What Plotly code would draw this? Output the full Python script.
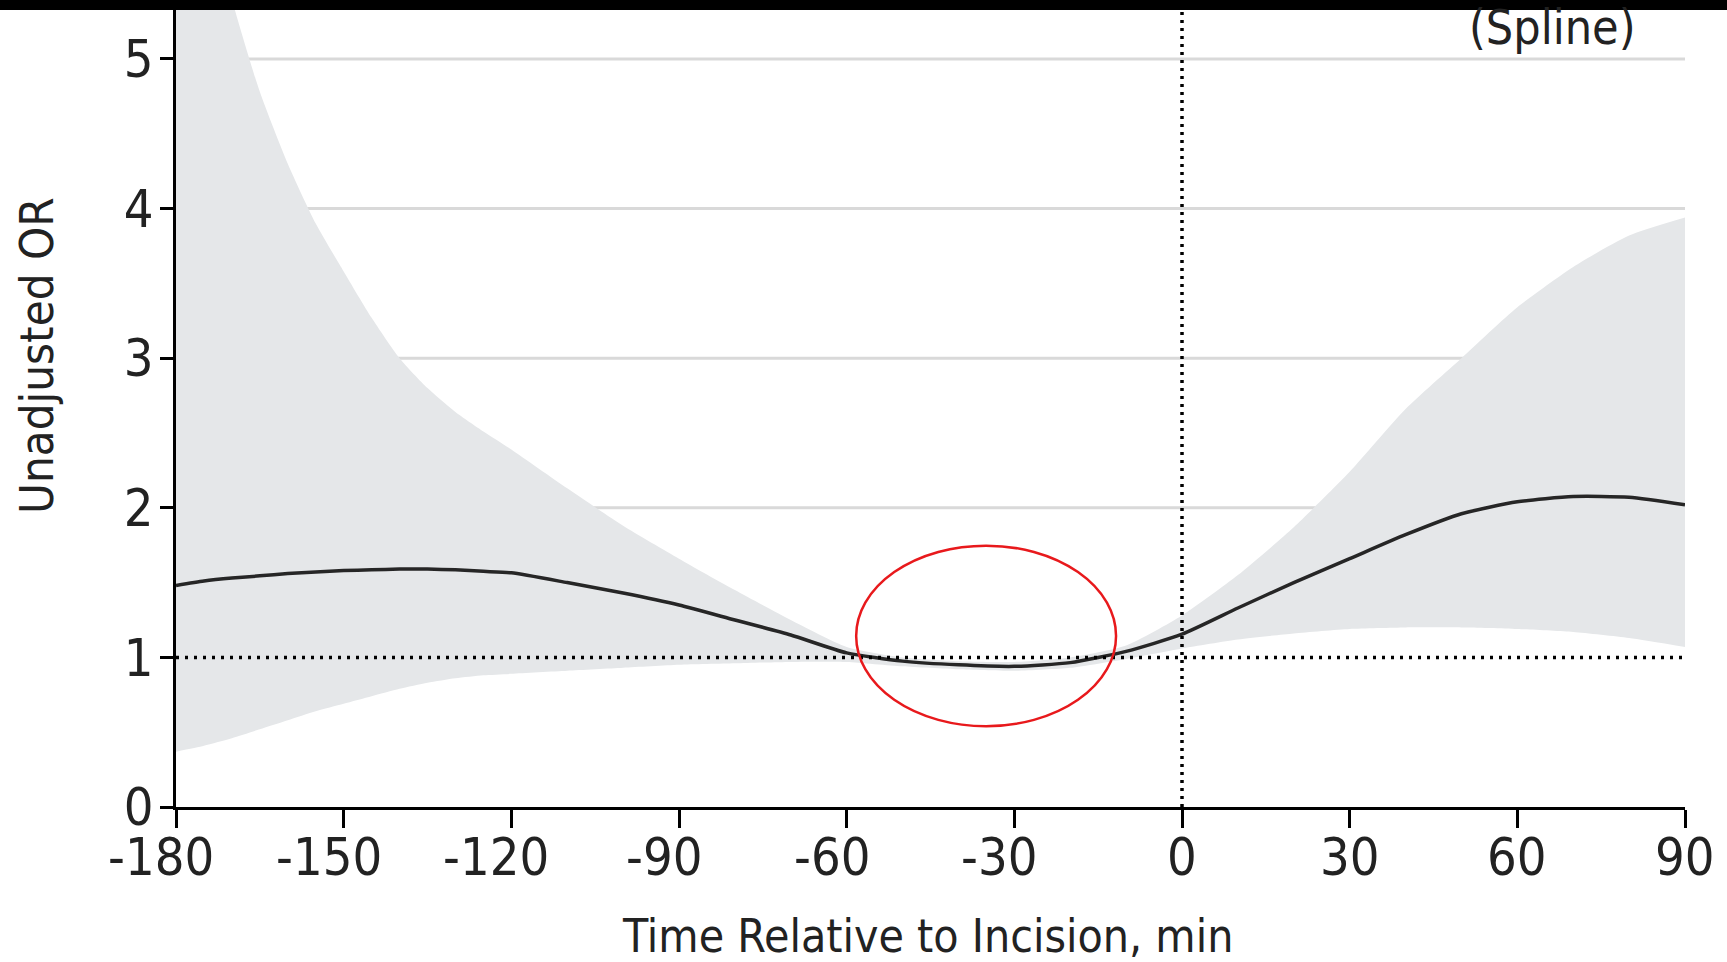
import plotly.graph_objects as go

# ---- data ----
time_min = [-180, -175, -170, -165, -160, -155, -150, -145, -140, -135, -130, -125,
            -120, -110, -100, -90, -80, -70, -60, -50, -40, -30, -20, -10,
            0, 10, 20, 30, 40, 50, 60, 70, 80, 90]
or_est = [1.48, 1.51, 1.53, 1.545, 1.56, 1.57, 1.58, 1.585, 1.59, 1.59, 1.585, 1.575,
          1.565, 1.50, 1.43, 1.35, 1.25, 1.15, 1.03, 0.975, 0.95, 0.94, 0.965, 1.04,
          1.155, 1.33, 1.50, 1.66, 1.82, 1.96, 2.04, 2.075, 2.07, 2.02]
ci_upper = [7.1, 6.2, 5.4, 4.78, 4.3, 3.9, 3.58, 3.27, 3.0, 2.8, 2.64, 2.51,
            2.39, 2.13, 1.88, 1.66, 1.45, 1.25, 1.07, 1.0, 0.975, 0.97, 1.0, 1.08,
            1.28, 1.55, 1.87, 2.24, 2.66, 3.0, 3.34, 3.61, 3.82, 3.94]
ci_lower = [0.37, 0.41, 0.46, 0.52, 0.58, 0.64, 0.69, 0.74, 0.79, 0.83, 0.86, 0.88,
            0.89, 0.91, 0.93, 0.95, 0.96, 0.97, 0.97, 0.94, 0.92, 0.91, 0.93, 0.99,
            1.06, 1.12, 1.16, 1.19, 1.20, 1.20, 1.19, 1.17, 1.13, 1.07]

x_ticks = [-180, -150, -120, -90, -60, -30, 0, 30, 60, 90]
x_ticktext = ["-180", "-150", "-120", "-90", "-60", "-30", "0", "30", "60", "90"]
y_ticks = [0, 1, 2, 3, 4, 5]
grid_levels = [2, 3, 4, 5]
reference_or = 1
incision_time = 0
highlight_x = [-58.3, -11.8]
highlight_y = [0.54, 1.747]

FONT = "DejaVu Sans Condensed, Liberation Sans Narrow, Arial Narrow, sans-serif"
TXT = "#222222"

fig = go.Figure()

fig.add_trace(go.Scatter(x=time_min, y=ci_lower, mode="lines",
                         line=dict(width=0, shape="spline", smoothing=0.6),
                         hoverinfo="skip", showlegend=False))
fig.add_trace(go.Scatter(x=time_min, y=ci_upper, mode="lines",
                         line=dict(width=0, shape="spline", smoothing=0.6),
                         fill="tonexty", fillcolor="#e5e7e9",
                         hoverinfo="skip", showlegend=False))
fig.add_trace(go.Scatter(x=time_min, y=or_est, mode="lines",
                         line=dict(color="#262626", width=3.5, shape="spline", smoothing=0.6),
                         showlegend=False))

shapes = []
for g in grid_levels:
    shapes.append(dict(type="line", xref="x", yref="y", x0=time_min[0], x1=time_min[-1],
                       y0=g, y1=g, line=dict(color="#d9d9d9", width=3), layer="below"))
shapes.append(dict(type="line", xref="x", yref="y", x0=time_min[0], x1=time_min[-1],
                   y0=reference_or, y1=reference_or,
                   line=dict(color="black", width=3.5, dash="3px,6px"), layer="above"))
shapes.append(dict(type="line", xref="x", yref="paper", x0=incision_time, x1=incision_time,
                   y0=0, y1=1, line=dict(color="black", width=3.5, dash="3px,5px"), layer="above"))
shapes.append(dict(type="circle", xref="x", yref="y", x0=highlight_x[0], x1=highlight_x[1],
                   y0=highlight_y[0], y1=highlight_y[1],
                   line=dict(color="#e8191c", width=2.5), layer="above"))
# black band at the top of the image
shapes.append(dict(type="rect", xref="paper", yref="paper", x0=-0.2, x1=1.1,
                   y0=0.9876, y1=1.02, fillcolor="black", line=dict(width=0), layer="above"))

annotations = [
    dict(text="Time Relative to Incision, min", xref="paper", yref="paper",
         x=0.498, y=-0.16, xanchor="center", yanchor="middle", showarrow=False,
         font=dict(family=FONT, size=46, color=TXT)),
    dict(text="Unadjusted OR", xref="paper", yref="paper", textangle=-90,
         x=-0.0928, y=0.56, xanchor="center", yanchor="middle", showarrow=False,
         font=dict(family=FONT, size=47, color=TXT)),
    dict(text="(Spline)", xref="paper", yref="paper",
         x=0.9125, y=0.9665, xanchor="center", yanchor="middle", showarrow=False,
         font=dict(family=FONT, size=48, color=TXT)),
]
# x tick labels: digits centred on the tick, minus sign hanging to the left
for tv, tt in zip(x_ticks, x_ticktext):
    annotations.append(dict(text=tt, xref="x", yref="paper", x=tv, y=0,
                            xanchor="center", yanchor="middle", showarrow=False,
                            xshift=-15 if tt.startswith("-") else 0, yshift=-50,
                            font=dict(family=FONT, size=52, color=TXT)))

fig.update_layout(
    width=1727, height=962,
    margin=dict(l=176, r=42, t=0, b=155),
    paper_bgcolor="white", plot_bgcolor="white",
    font=dict(family=FONT, size=50, color=TXT),
    shapes=shapes,
    annotations=annotations,
    xaxis=dict(range=[-180, 90], tickvals=x_ticks, showticklabels=False,
               showgrid=False, zeroline=False, showline=True, linecolor="black", linewidth=3,
               ticks="outside", ticklen=18, tickwidth=3, tickcolor="black"),
    yaxis=dict(range=[0, 5.394], tickvals=y_ticks,
               showgrid=False, zeroline=False, showline=True, linecolor="black", linewidth=3,
               ticks="outside", ticklen=13, tickwidth=3, tickcolor="black",
               ticklabelstandoff=-4,
               tickfont=dict(family=FONT, size=52, color=TXT)),
)

fig.write_html("out.html", config={"displayModeBar": False},
               post_script="document.body.style.margin='0px';")
